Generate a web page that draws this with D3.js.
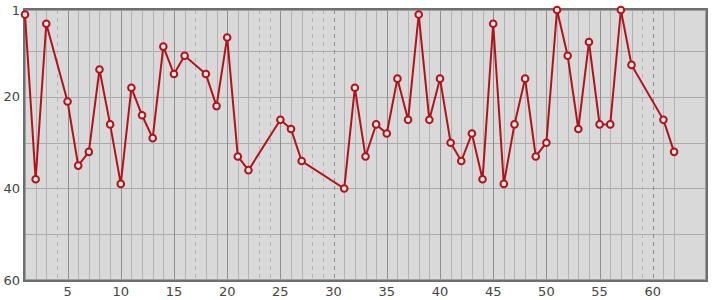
<!DOCTYPE html>
<html>
<head>
<meta charset="utf-8">
<script src="https://cdn.jsdelivr.net/npm/d3@7"></script>
<style>
  body { margin: 0; background: #fff; }
  text { font-family: "DejaVu Sans", sans-serif; font-size: 13px; fill: #444; }
</style>
</head>
<body>
<div class="container"></div>
<script>
const WIDTH = 715;
const HEIGHT = 300;
const LEFT = 25, RIGHT = 706, TOP = 10, BOTTOM = 280;

// data (x = game number, y = rank)
const xValues = [1,2,3,5,6,7,8,9,10,11,12,13,14,15,16,18,19,20,21,22,25,26,27,31,32,33,34,35,36,37,38,39,40,41,42,43,44,45,46,47,48,49,50,51,52,53,54,55,56,57,58,61,62];
const yValues = [2,38,4,21,35,32,14,26,39,18,24,29,9,15,11,15,22,7,33,36,25,27,34,40,18,33,26,28,16,25,2,25,16,30,34,28,38,4,39,26,16,33,30,1,11,27,8,26,26,1,13,25,32];
const xTicks = [5,10,15,20,25,30,35,40,45,50,55,60];
const yTicks = [1,20,40,60];
const yGrid = [10,20,30,40,50];

var xScale = d3.scaleLinear().domain([1, 65]).range([LEFT, RIGHT]);
var yScale = d3.scaleLinear().domain([1, 60]).range([TOP, BOTTOM]);

var points = xValues.map(function(x, i){ return {x: x, y: yValues[i]}; });

var svg = d3.select('.container').append('svg')
    .attr('width', WIDTH)
    .attr('height', HEIGHT);

svg.append('rect')
    .attr('x', LEFT).attr('y', TOP)
    .attr('width', RIGHT - LEFT).attr('height', BOTTOM - TOP)
    .attr('fill', '#d9d9d9');

// horizontal grid
svg.append('g').selectAll('line')
    .data(yGrid)
    .enter().append('line')
    .attr('x1', LEFT).attr('x2', RIGHT)
    .attr('y1', d => Math.round(yScale(d)) + 0.5)
    .attr('y2', d => Math.round(yScale(d)) + 0.5)
    .attr('stroke', '#ababab');

// vertical grid: solid where a game exists, dashed where it doesn't
var cols = d3.range(2, 63);
svg.append('g').selectAll('line')
    .data(cols)
    .enter().append('line')
    .attr('x1', d => Math.round(xScale(d)) + 0.5)
    .attr('x2', d => Math.round(xScale(d)) + 0.5)
    .attr('y1', TOP).attr('y2', BOTTOM)
    .attr('stroke', d => d % 5 === 0 ? '#8e8e8e' : '#b3b3b3')
    .attr('stroke-dasharray', d => xValues.includes(d) ? null : '4,4');

// frame
svg.append('rect')
    .attr('x', LEFT - 1).attr('y', TOP - 1)
    .attr('width', RIGHT - LEFT + 2).attr('height', BOTTOM - TOP + 2)
    .attr('fill', 'none').attr('stroke', '#6f6f6f').attr('stroke-width', 2);
svg.append('rect')
    .attr('x', LEFT + 0.5).attr('y', TOP + 0.5)
    .attr('width', RIGHT - LEFT - 1).attr('height', BOTTOM - TOP - 1)
    .attr('fill', 'none').attr('stroke', '#a0a0a0').attr('stroke-width', 1);

// axes labels
svg.append('g').selectAll('text')
    .data(yTicks)
    .enter().append('text')
    .attr('x', 20)
    .attr('y', d => yScale(d))
    .attr('dy', '0.35em')
    .attr('text-anchor', 'end')
    .text(d => d);

svg.append('g').selectAll('text')
    .data(xTicks)
    .enter().append('text')
    .attr('x', d => xScale(d))
    .attr('y', 296)
    .attr('text-anchor', 'middle')
    .text(d => d);

var line = d3.line()
    .x(d => xScale(d.x))
    .y(d => yScale(d.y));

svg.append('path')
    .datum(points)
    .attr('d', line)
    .attr('fill', 'none')
    .attr('stroke', '#b0141a')
    .attr('stroke-width', 2);

svg.append('g').selectAll('circle')
    .data(points)
    .enter().append('circle')
    .attr('cx', d => xScale(d.x))
    .attr('cy', d => yScale(d.y))
    .attr('r', 3.3)
    .attr('fill', '#e6e6e6')
    .attr('stroke', '#b0141a')
    .attr('stroke-width', 2);
</script>
</body>
</html>
